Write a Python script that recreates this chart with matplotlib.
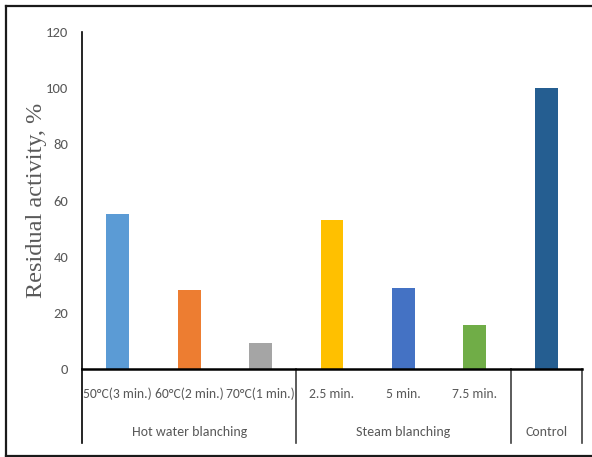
import numpy as np
import matplotlib
matplotlib.use('Agg')
import matplotlib.pyplot as plt
from matplotlib.lines import Line2D

labels = ['50°C(3 min.)', '60°C(2 min.)', '70°C(1 min.)', '2.5 min.', '5 min.', '7.5 min.', '']
values = [55.1, 28.1, 9.3, 53.0, 28.8, 15.7, 100]
colors = ['#5B9BD5', '#ED7D31', '#A5A5A5', '#FFC000', '#4472C4', '#70AD47', '#255E91']
groups = ['Hot water blanching', 'Steam blanching', 'Control']
group_sizes = [3, 3, 1]
yticks = [0, 20, 40, 60, 80, 100, 120]

W, H = 592, 457
txt = '#595959'
narrow = ['Carlito', 'Liberation Sans Narrow', 'Archivo Narrow', 'DejaVu Sans']

fig = plt.figure(figsize=(W / 100, H / 100), dpi=100)
ax = fig.add_axes([82 / W, 1 - 369 / H, 500 / W, 337 / H])

x = np.arange(len(values)) + 0.5
ax.bar(x, values, width=0.32, color=colors)
ax.set_xlim(0, len(values))
ax.set_ylim(0, 120)
ax.set_yticks(yticks)
ax.set_yticklabels([str(t) for t in yticks], fontfamily=narrow, fontsize=10.5, color=txt)
ax.tick_params(axis='y', length=0, pad=10)
ax.set_xticks([])

for s in ['top', 'right']:
    ax.spines[s].set_visible(False)
ax.spines['left'].set_color('black')
ax.spines['left'].set_linewidth(1.2)
ax.spines['bottom'].set_color('black')
ax.spines['bottom'].set_linewidth(1.8)

tr = ax.get_xaxis_transform()
low = -(443 - 369) / 337
for xi, lab in zip(x, labels):
    ax.text(xi, -(394 - 369) / 337, lab, transform=tr, ha='center', va='center',
            fontfamily=narrow, fontsize=9.8, color=txt)

edges = np.concatenate([[0], np.cumsum(group_sizes)])
for e in edges:
    ax.plot([e, e], [0, low], transform=tr, color='black' if e == 0 else '#404040',
            lw=1.2, clip_on=False)
for g, a, b in zip(groups, edges[:-1], edges[1:]):
    ax.text((a + b) / 2, -(432 - 369) / 337, g, transform=tr, ha='center', va='center',
            fontfamily=narrow, fontsize=10, color=txt)

fig.text(37 / W, 1 - 200 / H, 'Residual activity, %', rotation=90, ha='center', va='center',
         fontfamily='Liberation Serif', fontsize=17.5, color=txt)

# outer frame (left, top, bottom)
fy_top = 1 - 6 / H
fy_bot = 1 - 455.5 / H
fx_left = 6 / W
for xs, ys in [([fx_left, fx_left], [fy_bot, fy_top]),
               ([fx_left, 1.01], [fy_top, fy_top]),
               ([fx_left, 1.01], [fy_bot, fy_bot])]:
    fig.add_artist(Line2D(xs, ys, transform=fig.transFigure, color='#1a1a1a', lw=1.6))

fig.savefig('out.png', dpi=100)
